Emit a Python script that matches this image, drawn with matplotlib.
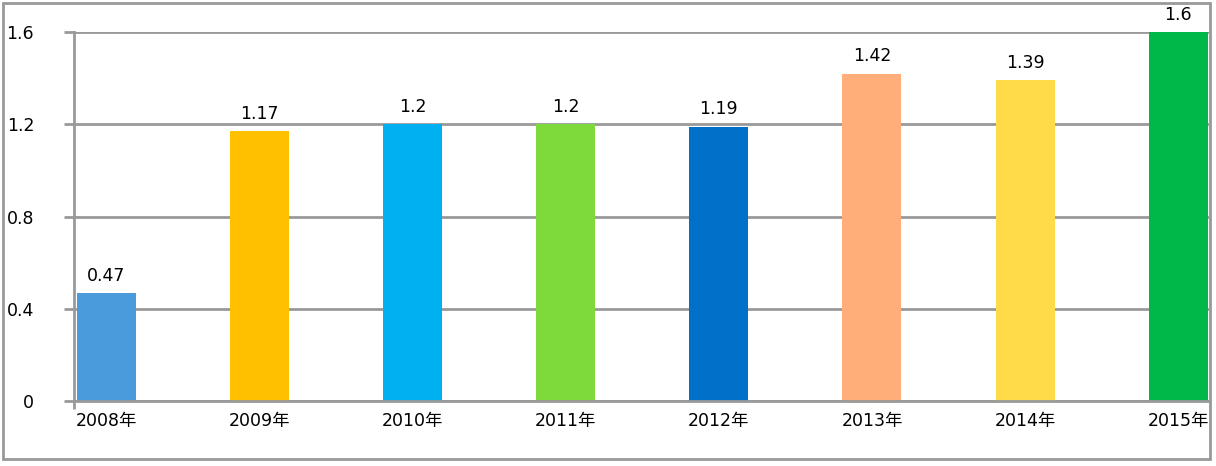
import numpy as np
import matplotlib
matplotlib.use('Agg')
import matplotlib.pyplot as plt
from matplotlib.patches import Rectangle

plt.rcParams['font.family'] = ['DejaVu Sans', 'Noto Sans CJK SC']

years = ['2008年', '2009年', '2010年', '2011年', '2012年', '2013年', '2014年', '2015年']
values = [0.47, 1.17, 1.2, 1.2, 1.19, 1.42, 1.39, 1.6]
colors = ['#4A9BDC', '#FFC000', '#00B0F0', '#7ED93A', '#0070C8', '#FFAE7A', '#FFDB4A', '#00B84A']
yticks = [0, 0.4, 0.8, 1.2, 1.6]

fig = plt.figure(figsize=(12.16, 4.66), dpi=100)
ax = fig.add_axes([74/1216, 1-401/466, (1209-74)/1216, (401-32)/466])

x = np.arange(len(years))
ax.bar(x, values, width=0.385, color=colors, zorder=3)
for xi, v in zip(x, values):
    ax.text(xi, v + 0.035, '{:g}'.format(v), ha='center', va='bottom',
            fontsize=12.5, clip_on=False)

ax.set_xlim(-0.209, 7.2)
ax.set_ylim(0, 1.6)
ax.set_yticks(yticks)
ax.set_yticklabels(['{:g}'.format(t) for t in yticks], fontsize=12.5)
ax.yaxis.grid(True, color='#999999', linewidth=2, zorder=0)
ax.tick_params(axis='y', length=7.2, width=2, color='#999999', pad=21.5)

ax.set_xticks(x)
ax.set_xticklabels(years, fontsize=12.5)
ax.tick_params(axis='x', length=0, pad=8)
ax.set_xticks([-0.209], minor=True)
ax.tick_params(axis='x', which='minor', length=5.8, width=2, color='#999999')

for s in ['top', 'right']:
    ax.spines[s].set_visible(False)
for s in ['left', 'bottom']:
    ax.spines[s].set_color('#999999')
    ax.spines[s].set_linewidth(2)
    ax.spines[s].set_zorder(4)

fig.patches.append(Rectangle((2.5/1216, 1-458.5/466), (1210-2.5)/1216, (458.5-2.5)/466,
                             transform=fig.transFigure, fill=False,
                             edgecolor='#999999', linewidth=2))

plt.savefig('out.png', dpi=100)
